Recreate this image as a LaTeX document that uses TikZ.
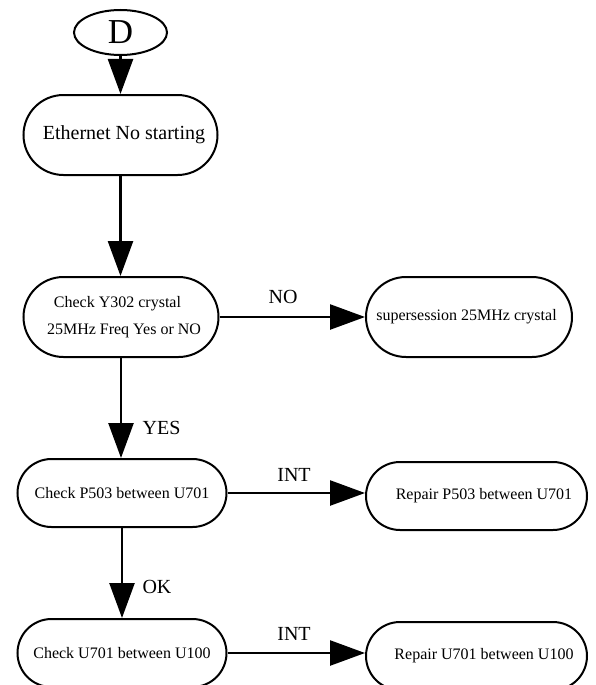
\documentclass[tikz,border=0pt]{standalone}
\usepackage{fontspec}
\setmainfont{Liberation Serif}
\usetikzlibrary{arrows.meta,shapes.geometric}

\tikzset{
  stadium/.style={draw, line width=2pt, rounded corners=#1, inner sep=0pt, align=center,
    font=\fontsize{16}{27}\selectfont},
  stadium/.default=40pt,
  flow/.style={line width=2.5pt, -{Triangle[length=35pt,width=25pt]}},
  tag/.style={font=\fontsize{20}{24}\selectfont, inner sep=0pt}
}

\begin{document}
\begin{tikzpicture}[x=1pt,y=-1pt]
  \useasboundingbox (0,0) rectangle (595,685);
  \clip (0,0) rectangle (595,685);

  % start connector
  \node[draw, ellipse, line width=2pt, minimum width=93pt, minimum height=45pt, inner sep=0pt,
        font=\fontsize{35}{36}\selectfont] (d) at (120.5,32.5) {D};

  % main column
  \node[stadium, minimum width=194pt, minimum height=80pt, font=\fontsize{20}{24}\selectfont]
       (eth) at (120.5,135) {\hspace*{7pt}Ethernet No starting};
  \node[stadium, minimum width=195pt, minimum height=80pt]
       (cy) at (121,317) {Check Y302 crystal\hspace*{7pt}\\\hspace*{6pt}25MHz Freq Yes or NO};
  \node[stadium=34pt, minimum width=209pt, minimum height=68pt]
       (cp) at (122,493) {Check P503 between U701};
  \node[stadium=34pt, minimum width=209pt, minimum height=68pt]
       (cu) at (122,653) {Check U701 between U100};

  % actions on the right
  \node[stadium, minimum width=206pt, minimum height=80pt]
       (ss) at (469,317) {supersession 25MHz crystal\hspace*{5pt}};
  \node[stadium=34pt, minimum width=221pt, minimum height=68pt]
       (rp) at (476.5,496) {\hspace*{15pt}Repair P503 between U701};
  \node[stadium=34pt, minimum width=221pt, minimum height=68pt]
       (ru) at (476.5,656) {\hspace*{15pt}Repair U701 between U100};

  % connectors (vertical ones kept plumb)
  \draw[flow] (d.south) -- (d.south |- eth.north);
  \draw[flow] (eth.south) -- (eth.south |- cy.north);
  \draw[flow] (cy.south) -- (cy.south |- cp.north);
  \draw[flow] (cp.south) -- (cp.south |- cu.north);
  \draw[flow] (cy.east) -- (cy.east -| ss.west);
  \draw[flow] (cp.east) -- (cp.east -| rp.west);
  \draw[flow] (cu.east) -- (cu.east -| ru.west);

  % connector labels
  \node[tag] (lno) at (283,297) {NO};
  \node[tag] (lyes) at (161.5,428) {YES};
  \node[tag] (lint1) at (294,475) {INT};
  \node[tag] (lok) at (157,587) {OK};
  \node[tag] (lint2) at (294,634) {INT};
\end{tikzpicture}
\end{document}
